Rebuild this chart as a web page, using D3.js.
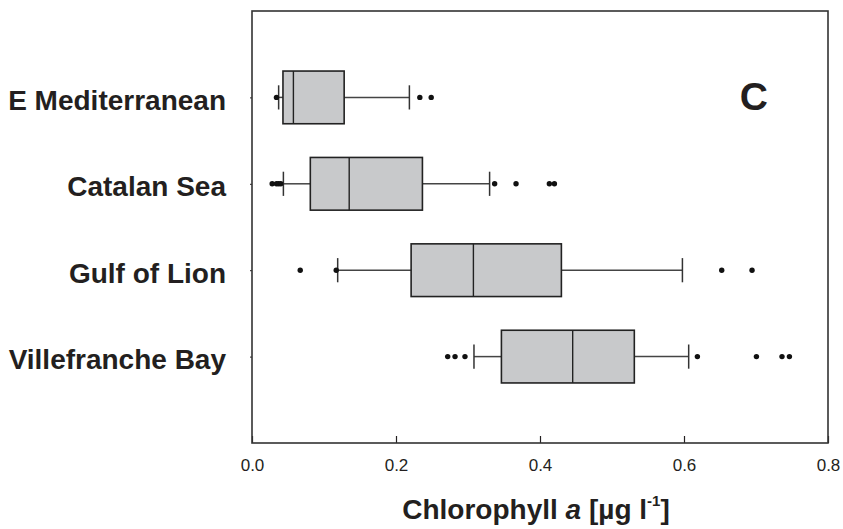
<!DOCTYPE html>
<html>
<head>
<meta charset="utf-8">
<script src="https://cdn.jsdelivr.net/npm/d3@7"></script>
<style>
  body { margin: 0; background: #fff; }
  svg { display: block; font-family: "Liberation Sans", Arial, sans-serif; }
</style>
</head>
<body>
<div id="chart"></div>
<script>
// Data (chlorophyll a, µg/l)
var regions = ["E Mediterranean", "Catalan Sea", "Gulf of Lion", "Villefranche Bay"];
var whiskerLow = [0.037, 0.0436, 0.119, 0.3083];
var q1 = [0.043, 0.081, 0.221, 0.3464];
var median = [0.0575, 0.135, 0.3075, 0.4454];
var q3 = [0.128, 0.2367, 0.4297, 0.531];
var whiskerHigh = [0.2186, 0.330, 0.5978, 0.6065];
var outliers = [
  [0.034, 0.2331, 0.2489],
  [0.028, 0.034, 0.037, 0.040, 0.337, 0.3667, 0.413, 0.420],
  [0.067, 0.117, 0.6524, 0.6945],
  [0.2718, 0.282, 0.2958, 0.6186, 0.7006, 0.7361, 0.7464]
];
var xTicks = [0.0, 0.2, 0.4, 0.6, 0.8];

var svgWidth = 843;
var svgHeight = 529;
var margin = { top: 11, right: 15, bottom: 86, left: 252 };
var width = svgWidth - margin.left - margin.right;
var height = svgHeight - margin.top - margin.bottom;

var ink = "#231f20";

var svg = d3.select("#chart")
  .append("svg")
  .attr("width", svgWidth)
  .attr("height", svgHeight);

var chartGroup = svg.append("g")
  .attr("transform", `translate(${margin.left}, ${margin.top})`);

var boxes = regions.map(function(r, i) {
  return { region: r, lo: whiskerLow[i], q1: q1[i], med: median[i], q3: q3[i], hi: whiskerHigh[i], out: outliers[i] };
});

var xScale = d3.scaleLinear().domain([0, 0.8]).range([0, width]);
var yScale = d3.scalePoint().domain(regions).range([0, height]).padding(1);
var step = yScale.step();
var boxH = step * 0.61;
var capH = step * 0.28;

// axes
var bottomAxis = d3.axisBottom(xScale)
  .tickValues(xTicks)
  .tickFormat(d3.format(".1f"))
  .tickSizeInner(-7)
  .tickSizeOuter(0)
  .tickPadding(16);

var xAxisG = chartGroup.append("g")
  .attr("transform", `translate(0, ${height})`)
  .call(bottomAxis);
xAxisG.select(".domain").remove();
xAxisG.selectAll("line").attr("stroke", ink).attr("stroke-width", 1.2);
xAxisG.selectAll("text")
  .attr("fill", ink)
  .style("font-size", "17px");

var leftAxis = d3.axisLeft(yScale).tickSizeInner(2).tickSizeOuter(0).tickPadding(24);
var yAxisG = chartGroup.append("g").call(leftAxis);
yAxisG.select(".domain").remove();
yAxisG.selectAll("line").attr("stroke", ink);
yAxisG.selectAll("text")
  .attr("fill", ink)
  .attr("dy", "0.43em")
  .style("font-size", "28px")
  .style("font-weight", "bold");

// frame
chartGroup.append("rect")
  .attr("width", width)
  .attr("height", height)
  .attr("fill", "none")
  .attr("stroke", "#333")
  .attr("stroke-width", 1.6);

// boxes
var g = chartGroup.selectAll(".box")
  .data(boxes)
  .enter()
  .append("g")
  .attr("class", "box")
  .attr("transform", d => `translate(0, ${yScale(d.region)})`);

g.append("line")
  .attr("x1", d => xScale(d.lo)).attr("x2", d => xScale(d.q1))
  .attr("stroke", "#444").attr("stroke-width", 1.5);
g.append("line")
  .attr("x1", d => xScale(d.q3)).attr("x2", d => xScale(d.hi))
  .attr("stroke", "#444").attr("stroke-width", 1.5);
g.append("line")
  .attr("x1", d => xScale(d.lo)).attr("x2", d => xScale(d.lo))
  .attr("y1", -capH / 2).attr("y2", capH / 2)
  .attr("stroke", "#333").attr("stroke-width", 1.5);
g.append("line")
  .attr("x1", d => xScale(d.hi)).attr("x2", d => xScale(d.hi))
  .attr("y1", -capH / 2).attr("y2", capH / 2)
  .attr("stroke", "#333").attr("stroke-width", 1.5);

g.append("rect")
  .attr("x", d => xScale(d.q1))
  .attr("y", -boxH / 2)
  .attr("width", d => xScale(d.q3) - xScale(d.q1))
  .attr("height", boxH)
  .attr("fill", "#c8c9cb")
  .attr("stroke", "#222")
  .attr("stroke-width", 1.6);

g.append("line")
  .attr("x1", d => xScale(d.med)).attr("x2", d => xScale(d.med))
  .attr("y1", -boxH / 2).attr("y2", boxH / 2)
  .attr("stroke", "#222").attr("stroke-width", 1.4);

g.selectAll(".outlier")
  .data(d => d.out)
  .enter()
  .append("circle")
  .attr("class", "outlier")
  .attr("cx", d => xScale(d))
  .attr("cy", 0)
  .attr("r", 2.7)
  .attr("fill", "#111");

// panel letter
chartGroup.append("text")
  .attr("x", xScale(0.697))
  .attr("y", yScale(regions[0]) + 13)
  .attr("text-anchor", "middle")
  .attr("fill", ink)
  .style("font-size", "39px")
  .style("font-weight", "bold")
  .text("C");

// x axis title
var title = svg.append("text")
  .attr("x", 536)
  .attr("y", 519)
  .attr("text-anchor", "middle")
  .attr("fill", ink)
  .style("font-size", "28px")
  .style("font-weight", "bold");
title.append("tspan").text("Chlorophyll ");
title.append("tspan").style("font-style", "italic").text("a");
title.append("tspan").text(" [µg l");
title.append("tspan").attr("dy", -13).style("font-size", "15px").text("-1");
title.append("tspan").attr("dy", 13).text("]");
</script>
</body>
</html>
